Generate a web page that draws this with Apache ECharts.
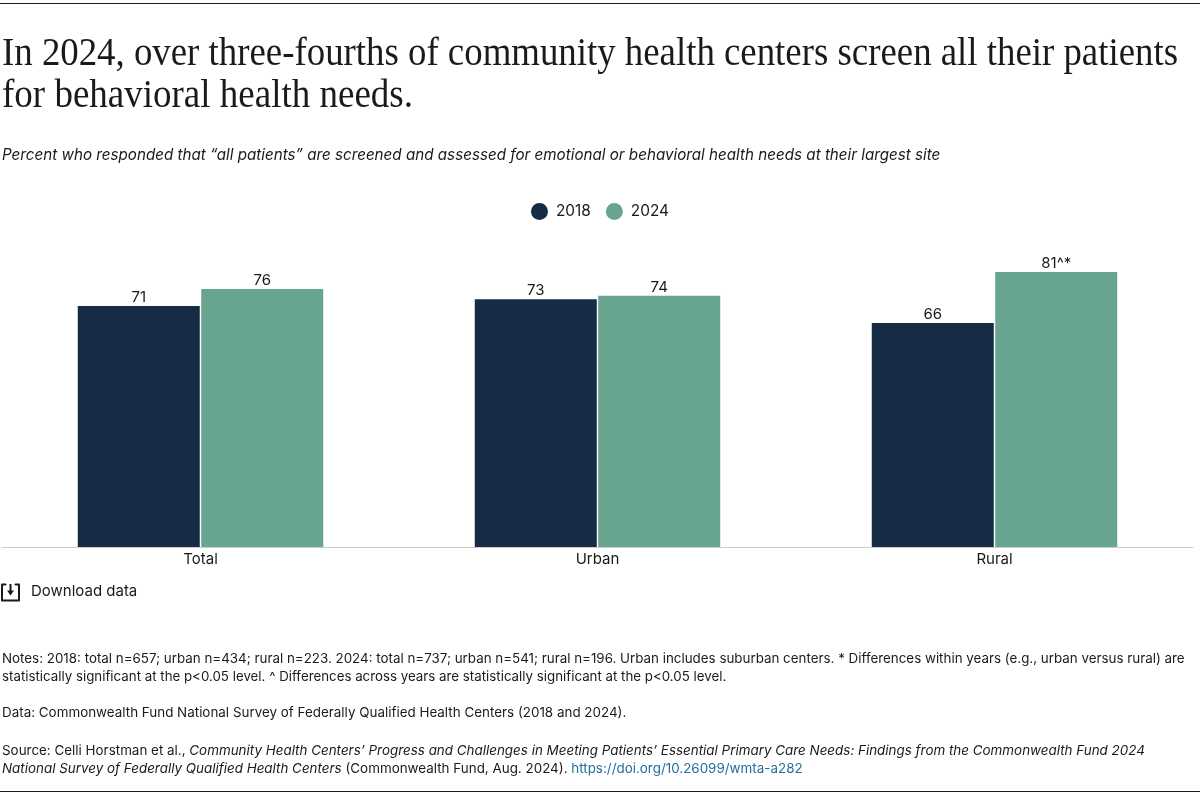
<!DOCTYPE html>
<html>
<head>
<meta charset="utf-8">
<style>
  html, body { margin: 0; padding: 0; background: #fff; }
  #main { width: 1200px; height: 795px; }
</style>
<script src="https://cdn.jsdelivr.net/npm/echarts@6/dist/echarts.min.js"></script>
</head>
<body>
<div id="main"></div>
<script>
var categories = ['Total', 'Urban', 'Rural'];
var values2018 = [71, 73, 66];
var values2024 = [76, 74, 81];
var labels2018 = ['71', '73', '66'];
var labels2024 = ['76', '74', '81^*'];
var seriesNames = ['2018', '2024'];

var titleLines = [
    'In 2024, over three-fourths of community health centers screen all their patients',
    'for behavioral health needs.'
];
var subtitle = 'Percent who responded that “all patients” are screened and assessed for emotional or behavioral health needs at their largest site';
var notesLines = [
    'Notes: 2018: total n=657; urban n=434; rural n=223. 2024: total n=737; urban n=541; rural n=196. Urban includes suburban centers. * Differences within years (e.g., urban versus rural) are',
    'statistically significant at the p<0.05 level. ^ Differences across years are statistically significant at the p<0.05 level.'
];
var dataLine = 'Data: Commonwealth Fund National Survey of Federally Qualified Health Centers (2018 and 2024).';
var sourceLine1 = '{n|Source: Celli Horstman et al., }{i|Community Health Centers’ Progress and Challenges in Meeting Patients’ Essential Primary Care Needs: Findings from the Commonwealth Fund 2024}';
var sourceLine2 = '{i|National Survey of Federally Qualified Health Centers} {n|(Commonwealth Fund, Aug. 2024). }{a|https://doi.org/10.26099/wmta-a282}';

var SANS = 'Inter, "Noto Sans", sans-serif';
var SERIF = '"Liberation Serif", serif';
var INK = '#1a1a1a';
var NOTE_SIZE = 13.42;

function textEl(x, y, str, size, extra) {
    var style = { x: x, y: y, text: str, fill: INK, font: size + 'px ' + SANS, textVerticalAlign: 'middle' };
    for (var k in extra) style[k] = extra[k];
    return { type: 'text', silent: true, style: style };
}

// the original headline face is narrower than Liberation Serif, so squeeze each line to its width
var measureCtx = document.createElement('canvas').getContext('2d');
function titleEl(y, str, targetWidth) {
    var font = '40px ' + SERIF;
    measureCtx.font = font;
    return {
        type: 'text',
        silent: true,
        x: 2,
        y: y,
        scaleX: targetWidth / measureCtx.measureText(str).width,
        style: { x: 0, y: 0, text: str, fill: INK, font: font, textVerticalAlign: 'middle' }
    };
}

var noteRich = {
    n: { font: NOTE_SIZE + 'px ' + SANS, fill: INK, color: INK },
    i: { font: 'italic ' + NOTE_SIZE + 'px ' + SANS, fill: INK, color: INK },
    a: { font: NOTE_SIZE + 'px ' + SANS, fill: '#1f6f9f', color: '#1f6f9f' }
};

var chart = echarts.init(document.getElementById('main'), null, { renderer: 'canvas' });
var option = {
    animation: false,
    backgroundColor: '#fff',
    legend: {
        data: seriesNames,
        top: 198,
        left: 'center',
        icon: 'circle',
        itemWidth: 17,
        itemHeight: 17,
        itemGap: 15,
        textStyle: { fontFamily: SANS, fontSize: 15.4, color: INK, padding: [0, 0, 0, 3] }
    },
    grid: { left: 2, right: 7, top: 207.5, height: 339.5, containLabel: false },
    xAxis: {
        type: 'category',
        data: categories,
        axisTick: { show: false },
        axisLine: { lineStyle: { color: '#cccccc', width: 1 } },
        axisLabel: { fontFamily: SANS, fontSize: 15, color: INK, margin: 5 }
    },
    yAxis: { type: 'value', min: 0, max: 100, show: false, splitLine: { show: false } },
    series: [
        {
            name: seriesNames[0],
            type: 'bar',
            data: values2018,
            barWidth: 122,
            barGap: '1.2%',
            itemStyle: { color: '#152c44' },
            label: {
                show: true,
                position: 'top',
                distance: 1,
                fontFamily: SANS,
                fontSize: 15,
                color: INK,
                formatter: function (p) { return labels2018[p.dataIndex]; }
            }
        },
        {
            name: seriesNames[1],
            type: 'bar',
            data: values2024,
            barWidth: 122,
            itemStyle: { color: '#67a591' },
            label: {
                show: true,
                position: 'top',
                distance: 1,
                fontFamily: SANS,
                fontSize: 15,
                color: INK,
                formatter: function (p) { return labels2024[p.dataIndex]; }
            }
        }
    ],
    graphic: [
        // rules top and bottom
        { type: 'line', silent: true, shape: { x1: 0, y1: 3.5, x2: 1200, y2: 3.5 }, style: { stroke: '#1a1a1a', lineWidth: 1 } },
        { type: 'line', silent: true, shape: { x1: 0, y1: 791.5, x2: 1200, y2: 791.5 }, style: { stroke: '#1a1a1a', lineWidth: 1 } },
        titleEl(54, titleLines[0], 1176),
        titleEl(96, titleLines[1], 411),
        textEl(2, 155, subtitle, 15.2, { font: 'italic 15.2px ' + SANS }),
        // download icon
        { type: 'polyline', silent: true, shape: { points: [[5.5, 584.5], [2, 584.5], [2, 600.5], [19, 600.5], [19, 584.5], [15.5, 584.5]] }, style: { stroke: INK, lineWidth: 2, fill: 'none', lineJoin: 'round', lineCap: 'round' } },
        { type: 'line', silent: true, shape: { x1: 10.5, y1: 584, x2: 10.5, y2: 592 }, style: { stroke: INK, lineWidth: 2 } },
        { type: 'polygon', silent: true, shape: { points: [[7, 590.5], [14, 590.5], [10.5, 595.5]] }, style: { fill: INK } },
        textEl(31, 591.5, 'Download data', 15),
        textEl(2, 658.5, notesLines[0], 13.36),
        textEl(2, 676.5, notesLines[1], 13.3),
        textEl(2, 713, dataLine, NOTE_SIZE),
        textEl(2, 750.5, '', NOTE_SIZE, { text: sourceLine1, rich: noteRich }),
        textEl(2, 768.5, '', NOTE_SIZE, { text: sourceLine2, rich: noteRich })
    ]
};
chart.setOption(option);
</script>
</body>
</html>
